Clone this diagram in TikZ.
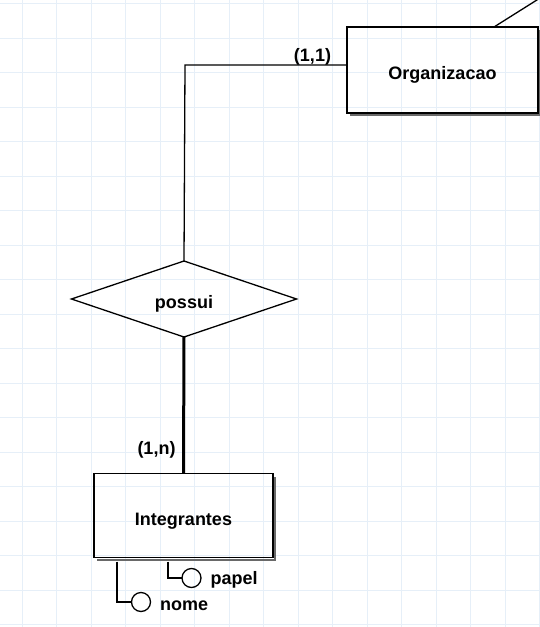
\documentclass[tikz,border=0pt]{standalone}
\usepackage{fontspec}
\setmainfont{Liberation Sans}
\usetikzlibrary{shapes.geometric, positioning, calc}

\definecolor{gridblue}{RGB}{230,239,248}
\definecolor{shadowgray}{RGB}{105,105,105}
\newcommand{\erfont}{\fontsize{18}{21}\selectfont\bfseries}

\tikzset{
  entity/.style={draw, rectangle, inner sep=0pt, outer sep=0pt, font=\erfont,
    text height=19pt, text depth=0pt},
  relation/.style={draw, diamond, inner sep=0pt, outer sep=0pt,
    minimum width=225pt, minimum height=74pt, font=\erfont,
    text height=18pt, text depth=0pt},
  attrib/.style={draw, circle, inner sep=0pt, outer sep=0pt, minimum size=19pt},
  lbl/.style={font=\erfont, inner sep=0pt},
  entshadow/.style={draw=shadowgray, line width=2pt},
  gridline/.style={draw=gridblue, line width=1pt},
}

\begin{document}
\begin{tikzpicture}[x=1pt, y=-1pt, line width=1.3pt]
    \useasboundingbox (0,0) rectangle (539,627);

    % background grid
    \foreach \i in {0,...,15}
        \draw[gridline] ({22.3+34.5*\i},0) -- ++(0,627);
    \foreach \j in {0,...,18}
        \draw[gridline] (0,{3.5+34.5*\j}) -- ++(539,0);

    % entities and relationship
    \node[entity, minimum width=191pt, minimum height=86pt] (org) at (442.5,70) {Organizacao};
    \node[relation] (possui) at (184,299) {possui};
    \node[entity, minimum width=179pt, minimum height=84pt] (integ) at (183.5,515.5) {Integrantes};

    \draw[entshadow] ([shift={(3,2)}]org.south west) -| ([shift={(2,3)}]org.north east);
    \draw[entshadow] ([shift={(3,2)}]integ.south west) -| ([shift={(2,3)}]integ.north east);

    % connectors
    \coordinate (bend) at (185,65);
    \coordinate (offtop) at (548,-7);
    \draw (org.west |- bend) -- (bend) -- (possui.north);
    \draw[line width=3pt] (possui.south) -- (integ.north);
    \draw ([xshift=51.5pt]org.north) -- (offtop);

    \node[lbl] (card1) at (312.5,57) {(1,1)};
    \node[lbl] (cardn) at (156.5,450) {(1,n)};

    % attributes
    \node[attrib] (nomeC) at (141,602) {};
    \node[attrib] (papelC) at (191.5,578) {};
    \draw ([shift={(-66.5,4)}]integ.south) |- (nomeC);
    \draw ([shift={(-15.5,4)}]integ.south) |- (papelC);

    \node[lbl, anchor=base west] (nome) at ([shift={(9,8)}]nomeC.east) {nome};
    \node[lbl, anchor=base west] (papel) at ([shift={(9,6)}]papelC.east) {papel};
\end{tikzpicture}
\end{document}
